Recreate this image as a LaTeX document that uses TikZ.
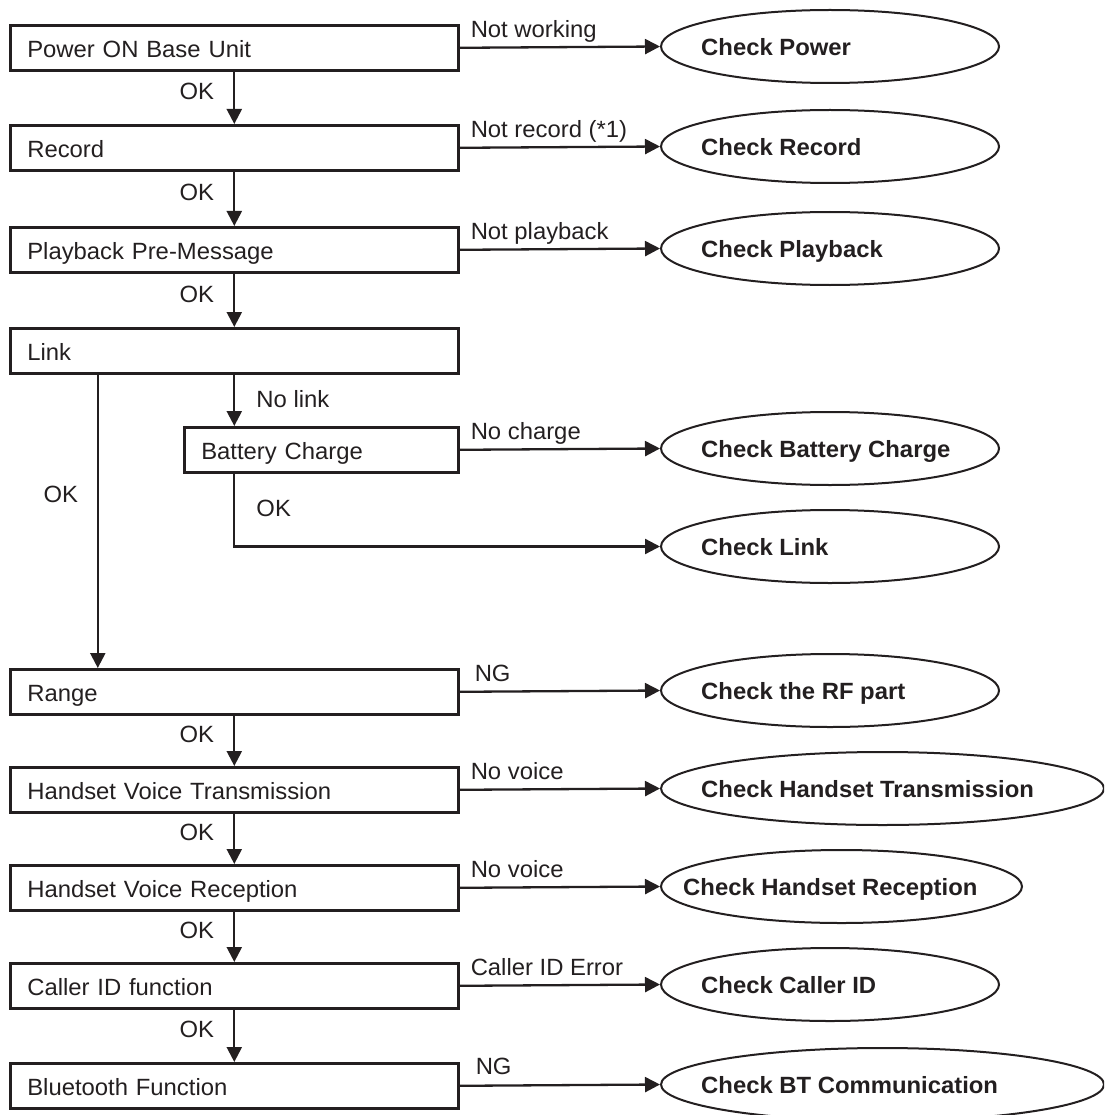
\documentclass[tikz,border=0pt]{standalone}
\usepackage{fontspec}
\newfontfamily\regf[FakeStretch=1.015]{Liberation Sans}
\newfontfamily\boldf[FakeStretch=1.015]{Liberation Sans}
\usetikzlibrary{shapes.geometric,arrows.meta}
\definecolor{ink}{HTML}{231F20}
\tikzset{
  box/.style={draw=ink, line width=2.6pt, rectangle, inner xsep=17pt, inner ysep=0pt,
    text height=32pt, text depth=13pt, align=left,
    font=\regf\fontsize{23.5}{27}\selectfont, text=ink, anchor=north west},
  mainbox/.style={box, text width=414pt},
  ell/.style={draw=ink, line width=2pt, ellipse, minimum height=73pt, inner sep=0pt},
  etext/.style={font=\boldf\bfseries\fontsize{23.5}{27}\selectfont, text=ink, anchor=base west, inner sep=0pt},
  lbl/.style={font=\regf\fontsize{23.5}{27}\selectfont, text=ink, inner sep=0pt},
  arr/.style={draw=ink, line width=2.3pt, -{Triangle[length=15pt,width=15pt]}},
  side/.style={lbl, pos=0, anchor=base west, xshift=10pt, yshift=10pt},
  okl/.style={lbl, midway, anchor=base east, xshift=-19pt, yshift=-2pt},
}
\begin{document}
\begin{tikzpicture}[x=1pt,y=-1pt]
\useasboundingbox (0,0) rectangle (1104,1115);
\clip (0,0) rectangle (1104,1115);

% left column boxes
\node[mainbox] (b1) at (9,24) {Power ON Base Unit};
\node[mainbox] (b2) at (9,124) {Record};
\node[mainbox] (b3) at (9,226) {Playback Pre-Message};
\node[mainbox] (b4) at (9,327) {Link};
\node[box, text width=240pt] (b5) at (183,426) {Battery Charge};
\node[mainbox] (b6) at (9,668) {Range};
\node[mainbox] (b7) at (9,766) {Handset Voice Transmission};
\node[mainbox] (b8) at (9,864) {Handset Voice Reception};
\node[mainbox] (b9) at (9,962) {Caller ID function};
\node[mainbox] (b10) at (9,1062) {Bluetooth Function};

% ellipses
\node[ell, minimum width=338pt] (e1) at (830,46.5) {};
\node[ell, minimum width=338pt] (e2) at (830,146.5) {};
\node[ell, minimum width=338pt] (e3) at (830,248.5) {};
\node[ell, minimum width=338pt] (e4) at (830,448.5) {};
\node[ell, minimum width=338pt] (e5) at (830,546.5) {};
\node[ell, minimum width=338pt] (e6) at (830,690.5) {};
\node[ell, minimum width=443pt] (e7) at (882.5,788.5) {};
\node[ell, minimum width=361pt] (e8) at (841.5,886.5) {};
\node[ell, minimum width=338pt] (e9) at (830,984.5) {};
\node[ell, minimum width=443pt] (e10) at (882.5,1084.5) {};

\node[etext] (t1) at ([xshift=41pt,yshift=-9pt]e1.west) {Check Power};
\node[etext] (t2) at ([xshift=41pt,yshift=-9pt]e2.west) {Check Record};
\node[etext] (t3) at ([xshift=41pt,yshift=-9pt]e3.west) {Check Playback};
\node[etext] (t4) at ([xshift=41pt,yshift=-9pt]e4.west) {Check Battery Charge};
\node[etext] (t5) at ([xshift=41pt,yshift=-9pt]e5.west) {Check Link};
\node[etext] (t6) at ([xshift=41pt,yshift=-9pt]e6.west) {Check the RF part};
\node[etext] (t7) at ([xshift=41pt,yshift=-9pt]e7.west) {Check Handset Transmission};
\node[etext] (t8) at ([xshift=23pt,yshift=-9pt]e8.west) {Check Handset Reception};
\node[etext] (t9) at ([xshift=41pt,yshift=-9pt]e9.west) {Check Caller ID};
\node[etext] (t10) at ([xshift=41pt,yshift=-9pt]e10.west) {Check BT Communication};

% side connectors
\draw[arr] (b1.east) -- (e1.west) node[side] {Not working};
\draw[arr] (b2.east) -- (e2.west) node[side] {Not record (*1)};
\draw[arr] (b3.east) -- (e3.west) node[side] {Not playback};
\draw[arr] (b5.east) -- (e4.west) node[side] {No charge};
\draw[arr] (b6.east) -- (e6.west) node[side, xshift=4pt] {NG};
\draw[arr] (b7.east) -- (e7.west) node[side] {No voice};
\draw[arr] (b8.east) -- (e8.west) node[side] {No voice};
\draw[arr] (b9.east) -- (e9.west) node[side] {Caller ID Error};
\draw[arr] (b10.east) -- (e10.west) node[side, xshift=5pt, yshift=1pt] {NG};

% main column
\draw[arr] (b1.south) -- (b2.north) node[okl] {OK};
\draw[arr] (b2.south) -- (b3.north) node[okl] {OK};
\draw[arr] (b3.south) -- (b4.north) node[okl] {OK};
\draw[arr] (b4.south) -- (b4.south |- b5.north)
  node[lbl, midway, anchor=base west, xshift=21pt, yshift=-7pt] {No link};
\draw[arr] (b4.south |- b5.south) |- (e5.west)
  node[lbl, pos=0, anchor=base west, xshift=21pt, yshift=-43pt] {OK};
\draw[arr] ([xshift=-136.5pt]b4.south) -- ([xshift=-136.5pt]b6.north)
  node[lbl, pos=0, anchor=base east, xshift=-18.5pt, yshift=-128pt] {OK};
\draw[arr] (b6.south) -- (b7.north) node[okl] {OK};
\draw[arr] (b7.south) -- (b8.north) node[okl] {OK};
\draw[arr] (b8.south) -- (b9.north) node[okl] {OK};
\draw[arr] (b9.south) -- (b10.north) node[okl] {OK};
\end{tikzpicture}
\end{document}
